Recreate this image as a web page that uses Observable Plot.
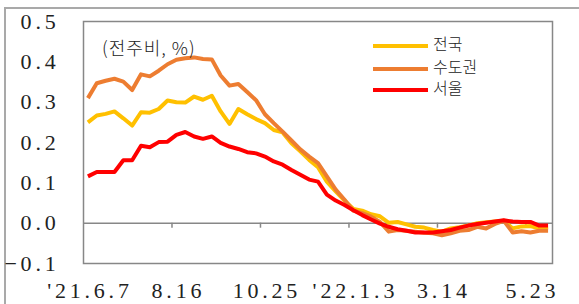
<!DOCTYPE html>
<html><head><meta charset="utf-8">
<script src="https://cdn.jsdelivr.net/npm/d3@7"></script>
<script src="https://cdn.jsdelivr.net/npm/@observablehq/plot@0.6"></script>
<style>
body{margin:0;background:#fff;}
#wrap{position:relative;width:579px;height:304px;overflow:hidden;background:#fff;}
#outer{position:absolute;left:4px;top:7px;width:640px;height:400px;border:2px solid #a9a9a9;box-sizing:border-box;}
#chart{position:absolute;left:0;top:0;}
.note{position:absolute;left:102px;top:34px;font-family:"Noto Sans CJK KR";font-weight:300;font-size:18px;letter-spacing:1px;color:#222;white-space:nowrap;}
.leg{position:absolute;left:373px;font-family:"Noto Sans CJK KR";font-weight:300;font-size:16px;color:#222;line-height:16px;white-space:nowrap;}
.leg span{display:inline-block;width:55px;height:4px;vertical-align:middle;margin-right:5px;}
</style></head>
<body>
<div id="wrap"><div id="outer"></div><div id="chart"></div>
<div class="note">(전주비, %)</div>
<div id="legend"></div>
</div>
<script>
// Weekly series, '21.6.7 – '22.6.6 (53 weeks)
const seriesNames = ["전국", "수도권", "서울"];
const seriesColors = ["#FFC000", "#ED7D31", "#FF0000"];
const nationwide = [0.25,0.267,0.271,0.277,0.26,0.242,0.275,0.274,0.283,0.304,0.30,0.299,0.314,0.306,0.316,0.277,0.246,0.283,0.27,0.258,0.248,0.231,0.225,0.198,0.178,0.157,0.139,0.103,0.079,0.056,0.035,0.031,0.022,0.017,0.001,0.003,-0.003,-0.009,-0.011,-0.017,-0.021,-0.013,-0.010,-0.006,0.0,0.002,0.004,0.006,-0.013,-0.008,-0.007,-0.013,-0.010];
const capital = [0.31,0.347,0.353,0.358,0.351,0.33,0.369,0.364,0.378,0.394,0.405,0.409,0.411,0.407,0.406,0.366,0.341,0.345,0.325,0.305,0.27,0.248,0.227,0.205,0.183,0.165,0.149,0.116,0.083,0.058,0.031,0.025,0.016,0.003,-0.021,-0.017,-0.019,-0.021,-0.024,-0.025,-0.030,-0.025,-0.019,-0.017,-0.009,-0.013,-0.002,0.006,-0.023,-0.020,-0.023,-0.019,-0.019];
const seoul = [0.116,0.127,0.127,0.127,0.156,0.156,0.192,0.188,0.201,0.202,0.219,0.226,0.215,0.209,0.215,0.199,0.19,0.184,0.176,0.173,0.165,0.153,0.145,0.132,0.12,0.108,0.103,0.071,0.056,0.045,0.032,0.02,0.009,-0.001,-0.009,-0.015,-0.019,-0.023,-0.023,-0.023,-0.020,-0.017,-0.011,-0.006,-0.002,0.001,0.004,0.007,0.004,0.003,0.003,-0.006,-0.006];
const xTickLabels = ["'21.6.7", "8.16", "10.25", "'22.1.3", "3.14", "5.23"];
const labelEvery = 10;
const yTicks = [-0.1, 0, 0.1, 0.2, 0.3, 0.4, 0.5];

const allSeries = [nationwide, capital, seoul];
const rows = allSeries.flatMap((vals, s) => vals.map((v, i) => ({i, v, s: seriesNames[s]})));
const labelPos = xTickLabels.map((_, k) => k * labelEvery);
const labelMap = new Map(labelPos.map((p, k) => [p, xTickLabels[k]]));
const boundaries = labelPos.slice(1).map(p => p - 0.5);
const n = nationwide.length;

const plot = Plot.plot({
  width: 579, height: 304,
  marginLeft: 83, marginRight: 27, marginTop: 21, marginBottom: 41,
  style: {color: "#222", background: "transparent"},
  x: {domain: [-0.5, n - 0.5], label: null},
  y: {domain: [-0.1, 0.5], label: null},
  color: {domain: seriesNames, range: seriesColors},
  marks: [
    Plot.ruleY([0], {stroke: "#878787", strokeWidth: 1.5}),
    Plot.ruleX(boundaries, {y1: 0, y2: -0.0125, stroke: "#878787", strokeWidth: 1.5}),
    ...seriesNames.map((name, s) => Plot.line(rows.filter(d => d.s === name), {x: "i", y: "v", stroke: seriesColors[s], strokeWidth: 4, strokeLinejoin: "round", strokeLinecap: "butt"})),
    Plot.frame({stroke: "#878787", strokeWidth: 1.5}),
    Plot.axisY({ticks: yTicks, tickFormat: d3.format(".1f"), tickSize: 0, tickPadding: 24, fontSize: 22, label: null, fontFamily: "Liberation Serif"}),
    Plot.axisX({ticks: labelPos, tickFormat: d => labelMap.get(d), tickSize: 0, tickPadding: 19, fontSize: 22, dx: 2, label: null, fontFamily: "Liberation Serif"})
  ]
});
plot.querySelectorAll("text").forEach(t => { t.style.letterSpacing = "3.8px"; });
document.getElementById("chart").appendChild(plot);

const legendTops = [35, 58, 79];
const legend = document.getElementById("legend");
seriesNames.forEach((name, s) => {
  const d = document.createElement("div");
  d.className = "leg";
  d.style.top = legendTops[s] + "px";
  d.innerHTML = `<span style="background:${seriesColors[s]}"></span>${name}`;
  legend.appendChild(d);
});
</script>
</body></html>
